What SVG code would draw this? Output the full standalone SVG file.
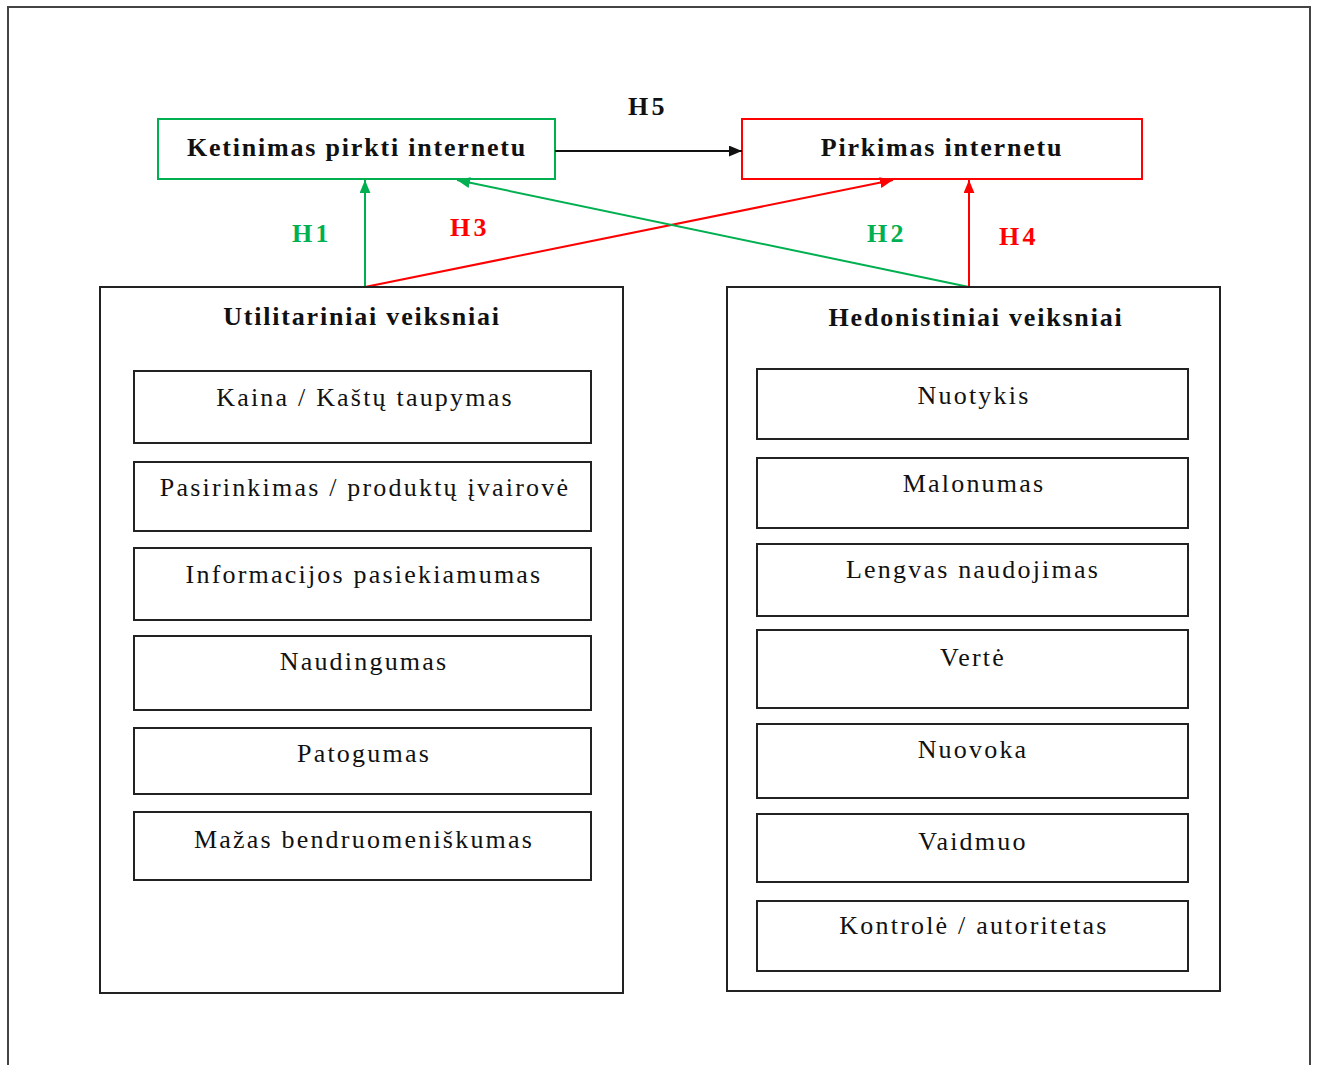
<svg xmlns="http://www.w3.org/2000/svg" width="1317" height="1065" viewBox="0 0 1317 1065">
<style>
.frame{fill:none;stroke:#444;stroke-width:2}
.box{fill:#fff;stroke:#222;stroke-width:2}
.item{fill:#fff;stroke:#222;stroke-width:2}
.t{font-family:"Liberation Serif","Times New Roman",serif;font-size:26px;fill:#111;text-anchor:middle;letter-spacing:2.2px}
.b{font-weight:bold;letter-spacing:1.8px}
.h{letter-spacing:3.5px}
.g{fill:#00B050}
.r{fill:#FF0000}
.cg{stroke:#00B050;stroke-width:2;fill:none}
.cr{stroke:#FF0000;stroke-width:2;fill:none}
.ck{stroke:#111;stroke-width:2;fill:none}
</style>
<defs>
<marker id="ag" viewBox="0 0 12 10" refX="12" refY="5" markerWidth="13" markerHeight="11" markerUnits="userSpaceOnUse" orient="auto"><path d="M0,0 L12,5 L0,10 z" fill="#00B050"/></marker>
<marker id="ar" viewBox="0 0 12 10" refX="12" refY="5" markerWidth="13" markerHeight="11" markerUnits="userSpaceOnUse" orient="auto"><path d="M0,0 L12,5 L0,10 z" fill="#FF0000"/></marker>
<marker id="ak" viewBox="0 0 12 10" refX="12" refY="5" markerWidth="13" markerHeight="11" markerUnits="userSpaceOnUse" orient="auto"><path d="M0,0 L12,5 L0,10 z" fill="#111"/></marker>
</defs>
<rect width="1317" height="1065" fill="#fff"/>
<path class="frame" d="M8,1066 V7 H1310 V1066"/>

<g id="ketinimas">
<rect x="158" y="119" width="397" height="60" fill="#fff" stroke="#00B050" stroke-width="2"/>
<text class="t b" x="357" y="156">Ketinimas pirkti internetu</text>
</g>
<g id="pirkimas">
<rect x="742" y="119" width="400" height="60" fill="#fff" stroke="#FF0000" stroke-width="2"/>
<text class="t b" x="942" y="156">Pirkimas internetu</text>
</g>

<g id="connectors">
<line class="ck" x1="555" y1="151" x2="742" y2="151" marker-end="url(#ak)"/>
<line class="cg" x1="365" y1="287" x2="365" y2="180" marker-end="url(#ag)"/>
<line class="cr" x1="365" y1="287" x2="893" y2="180" marker-end="url(#ar)"/>
<line class="cg" x1="969" y1="287" x2="457" y2="180" marker-end="url(#ag)"/>
<line class="cr" x1="969" y1="287" x2="969" y2="180" marker-end="url(#ar)"/>
<text class="t b h" x="648" y="115">H5</text>
<text class="t b h g" x="312" y="242">H1</text>
<text class="t b h r" x="470" y="236">H3</text>
<text class="t b h g" x="887" y="242">H2</text>
<text class="t b h r" x="1019" y="245">H4</text>
</g>

<g id="utilitariniai">
<rect class="box" x="100" y="287" width="523" height="706"/>
<text class="t b" x="362" y="325">Utilitariniai veiksniai</text>
</g>
<g id="u1"><rect class="item" x="134" y="371" width="457" height="72"/><text class="t" x="365" y="406">Kaina / Kaštų taupymas</text></g>
<g id="u2"><rect class="item" x="134" y="462" width="457" height="69"/><text class="t" x="365" y="496">Pasirinkimas / produktų įvairovė</text></g>
<g id="u3"><rect class="item" x="134" y="548" width="457" height="72"/><text class="t" x="364" y="583">Informacijos pasiekiamumas</text></g>
<g id="u4"><rect class="item" x="134" y="636" width="457" height="74"/><text class="t" x="364" y="670">Naudingumas</text></g>
<g id="u5"><rect class="item" x="134" y="728" width="457" height="66"/><text class="t" x="364" y="762">Patogumas</text></g>
<g id="u6"><rect class="item" x="134" y="812" width="457" height="68"/><text class="t" x="364" y="848">Mažas bendruomeniškumas</text></g>

<g id="hedonistiniai">
<rect class="box" x="727" y="287" width="493" height="704"/>
<text class="t b" x="976" y="326">Hedonistiniai veiksniai</text>
</g>
<g id="h1"><rect class="item" x="757" y="369" width="431" height="70"/><text class="t" x="974" y="404">Nuotykis</text></g>
<g id="h2"><rect class="item" x="757" y="458" width="431" height="70"/><text class="t" x="974" y="492">Malonumas</text></g>
<g id="h3"><rect class="item" x="757" y="544" width="431" height="72"/><text class="t" x="973" y="578">Lengvas naudojimas</text></g>
<g id="h4"><rect class="item" x="757" y="630" width="431" height="78"/><text class="t" x="973" y="666">Vertė</text></g>
<g id="h5"><rect class="item" x="757" y="724" width="431" height="74"/><text class="t" x="973" y="758">Nuovoka</text></g>
<g id="h6"><rect class="item" x="757" y="814" width="431" height="68"/><text class="t" x="973" y="850">Vaidmuo</text></g>
<g id="h7"><rect class="item" x="757" y="901" width="431" height="70"/><text class="t" x="974" y="934">Kontrolė / autoritetas</text></g>
</svg>
